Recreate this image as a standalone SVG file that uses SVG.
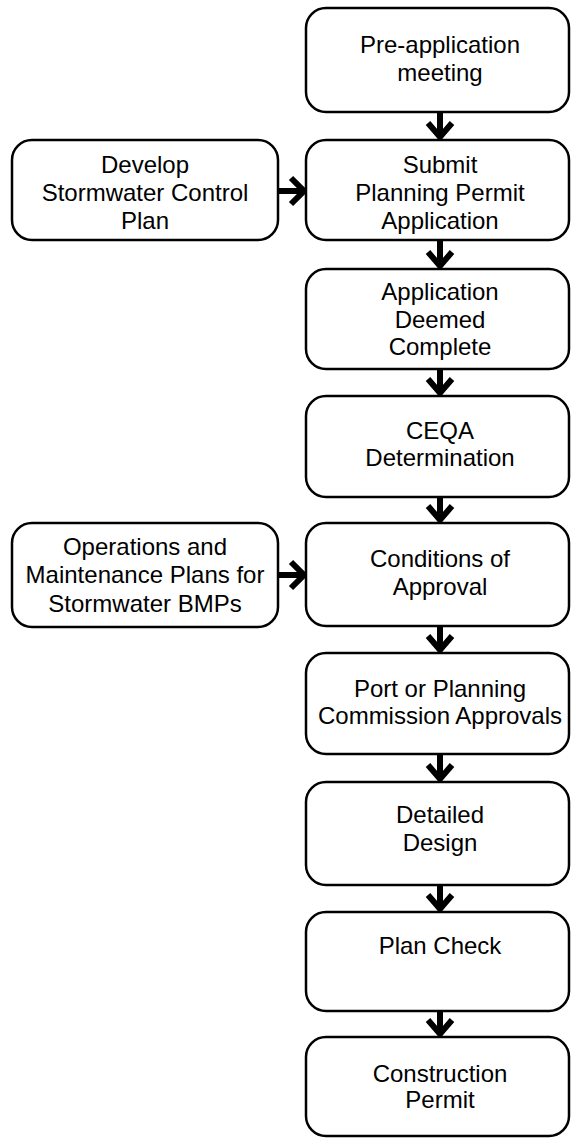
<svg xmlns="http://www.w3.org/2000/svg" width="571" height="1138" viewBox="0 0 571 1138">
<style>
.box{fill:#fff;stroke:#000;stroke-width:2.5}
.t{font-family:"Liberation Sans",Arial,sans-serif;font-size:24px;fill:#000;text-anchor:middle}
.c{fill:none;stroke:#000;stroke-width:6;stroke-linejoin:miter}
</style>
<rect width="571" height="1138" fill="#fff"/>
<g id="connectors">
<path class="c" d="M440 112V138M428 123L440 137L452 123"/>
<path class="c" d="M440 240V267M428 252L440 266L452 252"/>
<path class="c" d="M440 369V394M428 379L440 393L452 379"/>
<path class="c" d="M440 497V521M428 506L440 520L452 506"/>
<path class="c" d="M440 626V651M428 636L440 650L452 636"/>
<path class="c" d="M440 754V780M428 765L440 779L452 765"/>
<path class="c" d="M440 885V910M428 895L440 909L452 895"/>
<path class="c" d="M440 1011V1035M428 1020L440 1034L452 1020"/>
<path class="c" d="M278 191H304M291 178L304 191L291 204"/>
<path class="c" d="M278 575H304M291 562L304 575L291 588"/>
</g>
<g id="n1"><rect class="box" x="306" y="8" width="263" height="104" rx="20"/><text class="t" x="440" y="53">Pre-application</text><text class="t" x="440" y="81">meeting</text></g>
<g id="n2"><rect class="box" x="306" y="140" width="263" height="100" rx="20"/><text class="t" x="440" y="173">Submit</text><text class="t" x="440" y="201">Planning Permit</text><text class="t" x="440" y="229">Application</text></g>
<g id="n3"><rect class="box" x="306" y="269" width="263" height="100" rx="20"/><text class="t" x="440" y="300">Application</text><text class="t" x="440" y="328">Deemed</text><text class="t" x="440" y="355">Complete</text></g>
<g id="n4"><rect class="box" x="306" y="396" width="263" height="101" rx="20"/><text class="t" x="440" y="439">CEQA</text><text class="t" x="440" y="466">Determination</text></g>
<g id="n5"><rect class="box" x="306" y="523" width="263" height="103" rx="20"/><text class="t" x="440" y="567">Conditions of</text><text class="t" x="440" y="595">Approval</text></g>
<g id="n6"><rect class="box" x="306" y="653" width="263" height="101" rx="20"/><text class="t" x="440" y="697">Port or Planning</text><text class="t" x="440" y="724">Commission Approvals</text></g>
<g id="n7"><rect class="box" x="306" y="782" width="263" height="103" rx="20"/><text class="t" x="440" y="823">Detailed</text><text class="t" x="440" y="851">Design</text></g>
<g id="n8"><rect class="box" x="306" y="912" width="263" height="99" rx="20"/><text class="t" x="440" y="954">Plan Check</text></g>
<g id="n9"><rect class="box" x="306" y="1037" width="263" height="99" rx="20"/><text class="t" x="440" y="1082">Construction</text><text class="t" x="440" y="1108">Permit</text></g>
<g id="nA"><rect class="box" x="12" y="140" width="266" height="100" rx="20"/><text class="t" x="145" y="173">Develop</text><text class="t" x="145" y="201">Stormwater Control</text><text class="t" x="145" y="229">Plan</text></g>
<g id="nB"><rect class="box" x="12" y="523" width="266" height="104" rx="20"/><text class="t" x="145" y="555">Operations and</text><text class="t" x="145" y="583">Maintenance Plans for</text><text class="t" x="145" y="612">Stormwater BMPs</text></g>
</svg>
